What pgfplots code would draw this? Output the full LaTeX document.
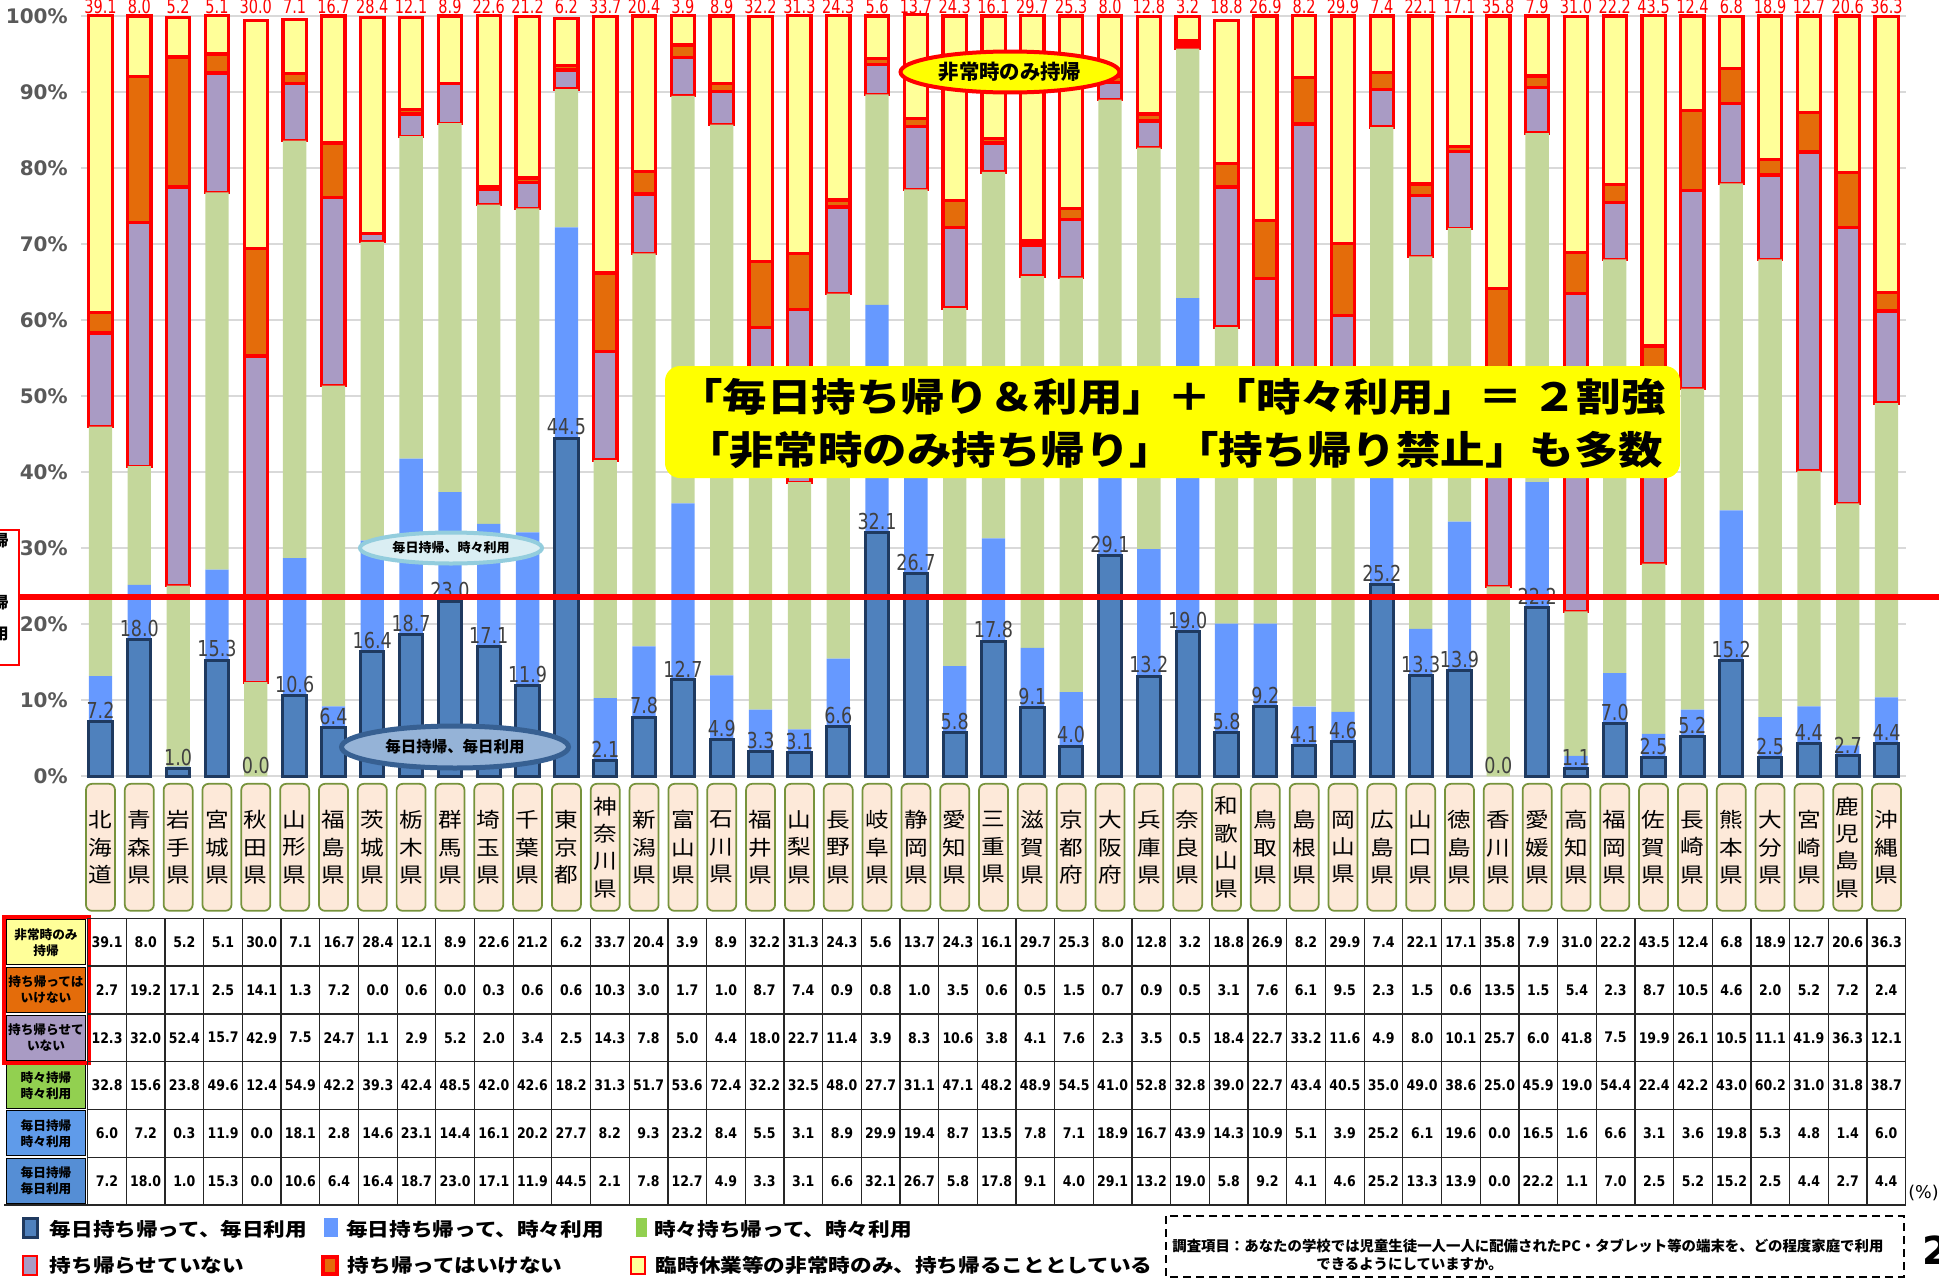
\documentclass[border=0pt]{standalone}
\usepackage{pgfplots}
\pgfplotsset{compat=1.18}
\usepackage{pgfplotstable}
\usepackage{fontspec}
\usetikzlibrary{shapes.geometric}
\setmainfont{DejaVu Sans}
\newfontfamily\jp{Noto Sans CJK JP}
\newfontfamily\jpw[FakeStretch=1.15]{Noto Sans CJK JP}
\newfontfamily\numc[FakeStretch=0.86]{DejaVu Sans}
\newfontfamily\numn[FakeStretch=0.8]{DejaVu Sans}
\newfontfamily\numt[FakeStretch=0.75]{DejaVu Sans}
\newfontfamily\num{DejaVu Sans}
\newcommand\fs[2]{\fontsize{#1}{#2}\selectfont}
\pgfkeys{/pgf/number format/assume math mode=true}

\definecolor{dkblue}{HTML}{4F81BD}
\definecolor{navy}{HTML}{1F3A60}
\definecolor{ltblue}{HTML}{6699FF}
\definecolor{grn}{HTML}{C4D79B}
\definecolor{lgrn}{HTML}{92D050}
\definecolor{purp}{HTML}{A99BC4}
\definecolor{orng}{HTML}{E46C0A}
\definecolor{ylw}{HTML}{FFFF99}
\definecolor{rd}{HTML}{FF0000}
\definecolor{gridc}{HTML}{D9D9D9}
\definecolor{tickc}{HTML}{595959}
\definecolor{lblc}{HTML}{404040}
\definecolor{catfill}{HTML}{FDE9D9}
\definecolor{catdraw}{HTML}{77933C}
\definecolor{ellbf}{HTML}{DAEEF3}
\definecolor{ellbd}{HTML}{93CDDD}
\definecolor{ellcf}{HTML}{95B3D7}
\definecolor{ellcd}{HTML}{376092}
\definecolor{rowe}{HTML}{5F9BEA}
\definecolor{rowf}{HTML}{558ED5}
\definecolor{ybox}{HTML}{FFFF00}

% A: 非常時のみ持帰, B: 持ち帰ってはいけない, C: 持ち帰らせていない,
% D: 時々持帰時々利用, E: 毎日持帰時々利用, F: 毎日持帰毎日利用
\pgfplotstableread{
A B C D E F
39.1 2.7 12.3 32.8 6.0 7.2
8.0 19.2 32.0 15.6 7.2 18.0
5.2 17.1 52.4 23.8 0.3 1.0
5.1 2.5 15.7 49.6 11.9 15.3
30.0 14.1 42.9 12.4 0.0 0.0
7.1 1.3 7.5 54.9 18.1 10.6
16.7 7.2 24.7 42.2 2.8 6.4
28.4 0.0 1.1 39.3 14.6 16.4
12.1 0.6 2.9 42.4 23.1 18.7
8.9 0.0 5.2 48.5 14.4 23.0
22.6 0.3 2.0 42.0 16.1 17.1
21.2 0.6 3.4 42.6 20.2 11.9
6.2 0.6 2.5 18.2 27.7 44.5
33.7 10.3 14.3 31.3 8.2 2.1
20.4 3.0 7.8 51.7 9.3 7.8
3.9 1.7 5.0 53.6 23.2 12.7
8.9 1.0 4.4 72.4 8.4 4.9
32.2 8.7 18.0 32.2 5.5 3.3
31.3 7.4 22.7 32.5 3.1 3.1
24.3 0.9 11.4 48.0 8.9 6.6
5.6 0.8 3.9 27.7 29.9 32.1
13.7 1.0 8.3 31.1 19.4 26.7
24.3 3.5 10.6 47.1 8.7 5.8
16.1 0.6 3.8 48.2 13.5 17.8
29.7 0.5 4.1 48.9 7.8 9.1
25.3 1.5 7.6 54.5 7.1 4.0
8.0 0.7 2.3 41.0 18.9 29.1
12.8 0.9 3.5 52.8 16.7 13.2
3.2 0.5 0.5 32.8 43.9 19.0
18.8 3.1 18.4 39.0 14.3 5.8
26.9 7.6 22.7 22.7 10.9 9.2
8.2 6.1 33.2 43.4 5.1 4.1
29.9 9.5 11.6 40.5 3.9 4.6
7.4 2.3 4.9 35.0 25.2 25.2
22.1 1.5 8.0 49.0 6.1 13.3
17.1 0.6 10.1 38.6 19.6 13.9
35.8 13.5 25.7 25.0 0.0 0.0
7.9 1.5 6.0 45.9 16.5 22.2
31.0 5.4 41.8 19.0 1.6 1.1
22.2 2.3 7.5 54.4 6.6 7.0
43.5 8.7 19.9 22.4 3.1 2.5
12.4 10.5 26.1 42.2 3.6 5.2
6.8 4.6 10.5 43.0 19.8 15.2
18.9 2.0 11.1 60.2 5.3 2.5
12.7 5.2 41.9 31.0 4.8 4.4
20.6 7.2 36.3 31.8 1.4 2.7
36.3 2.4 12.1 38.7 6.0 4.4
}\data

\begin{document}
\begin{tikzpicture}[x=0.02cm,y=-0.02cm]
\useasboundingbox (0,0) rectangle (1939,1278);

\begin{axis}[
  at={(1.622cm,-15.532cm)}, anchor=south west,
  scale only axis, width=36.506cm, height=15.212cm,
  xmin=-0.5, xmax=46.5, ymin=0, ymax=100, enlargelimits=false,
  ybar stacked, bar width=0.6,
  axis line style={draw=none}, major tick length=0pt, tick style={draw=none},
  ymajorgrids, grid style={draw=gridc, line width=0.04cm},
  ytick={0,10,...,100},
  yticklabels={0\%,10\%,20\%,30\%,40\%,50\%,60\%,70\%,80\%,90\%,100\%},
  yticklabel style={font=\num\bfseries\fs{11.4}{11.4}, text=tickc, anchor=east, inner sep=0pt, xshift=-0.26cm},
  xtick={0,...,46},
  xticklabels={{北\\海\\道},{青\\森\\県},{岩\\手\\県},{宮\\城\\県},{秋\\田\\県},{山\\形\\県},{福\\島\\県},{茨\\城\\県},{栃\\木\\県},{群\\馬\\県},{埼\\玉\\県},{千\\葉\\県},{東\\京\\都},{神\\奈\\川\\県},{新\\潟\\県},{富\\山\\県},{石\\川\\県},{福\\井\\県},{山\\梨\\県},{長\\野\\県},{岐\\阜\\県},{静\\岡\\県},{愛\\知\\県},{三\\重\\県},{滋\\賀\\県},{京\\都\\府},{大\\阪\\府},{兵\\庫\\県},{奈\\良\\県},{和\\歌\\山\\県},{鳥\\取\\県},{島\\根\\県},{岡\\山\\県},{広\\島\\県},{山\\口\\県},{徳\\島\\県},{香\\川\\県},{愛\\媛\\県},{高\\知\\県},{福\\岡\\県},{佐\\賀\\県},{長\\崎\\県},{熊\\本\\県},{大\\分\\県},{宮\\崎\\県},{鹿\\児\\島\\県},{沖\\縄\\県}},
  xticklabel style={font=\jpw\fs{11.7}{15.6}, draw=catdraw, fill=catfill, line width=0.035cm, rounded corners=0.12cm, anchor=north, inner sep=0pt, minimum width=0.58cm, minimum height=2.54cm, text width=0.58cm, align=center, yshift=-0.13cm},
  clip=false,
]
\addplot[fill=dkblue, draw=navy, line width=0.06cm] table[x expr=\coordindex, y=F]{\data};
\addplot[fill=ltblue, draw=none] table[x expr=\coordindex, y=E]{\data};
\addplot[fill=grn, draw=none] table[x expr=\coordindex, y=D]{\data};
\addplot[fill=purp, draw=rd, line width=0.065cm] table[x expr=\coordindex, y=C]{\data};
\addplot[fill=orng, draw=rd, line width=0.065cm] table[x expr=\coordindex, y=B]{\data};
\addplot[fill=ylw, draw=rd, line width=0.065cm] table[x expr=\coordindex, y=A]{\data};
\end{axis}

\begin{axis}[
  at={(1.622cm,-15.532cm)}, anchor=south west,
  scale only axis, width=36.506cm, height=15.212cm,
  xmin=-0.5, xmax=46.5, ymin=0, ymax=100, enlargelimits=false,
  hide axis, clip=false,
  point meta=explicit,
  nodes near coords={\pgfmathprintnumber[fixed,fixed zerofill,precision=1]{\pgfplotspointmeta}},
]
\addplot[only marks, mark=*, mark size=0pt, mark options={draw=none,fill=none},
  every node near coord/.append style={text=lblc, font=\numn\fs{12.5}{12.5}, inner sep=0pt, yshift=0.05cm}]
  table[x expr=\coordindex, y=F, meta=F]{\data};
\addplot[only marks, mark=*, mark size=0pt, mark options={draw=none,fill=none},
  every node near coord/.append style={text=rd, font=\numt\fs{11}{11}, inner sep=0pt, yshift=0.04cm}]
  table[x expr=\coordindex, y expr=100, meta=A]{\data};
\end{axis}

% red reference line and cut-off box at left
\draw[rd, line width=0.11cm] (19,597) -- (1939,597);
\draw[rd, line width=0.04cm] (-60,530) rectangle (19,665);
\begin{scope}[every node/.style={anchor=east, inner sep=0pt, font=\jp\bfseries\fs{9}{9}}]
\node at (9,540) {持帰};
\node at (9,562) {」};
\node at (9,602) {持帰};
\node at (9,619) {」};
\node at (9,634) {利用};
\end{scope}

% callouts
\node[ellipse, draw=rd, line width=0.08cm, fill=ybox, minimum width=4.38cm, minimum height=0.82cm, inner sep=0pt,
  font=\jp\bfseries\fs{11.6}{11.6}] at (1010,72) {非常時のみ持帰};
\node[ellipse, draw=ellbd, line width=0.08cm, fill=ellbf, minimum width=3.64cm, minimum height=0.62cm, inner sep=0pt,
  font=\jp\bfseries\fs{7.4}{7.4}] at (451,548) {毎日持帰、時々利用};
\node[ellipse, draw=ellcd, line width=0.1cm, fill=ellcf, minimum width=4.54cm, minimum height=0.84cm, inner sep=0pt,
  font=\jp\bfseries\fs{8.8}{8.8}] at (455,747) {毎日持帰、毎日利用};

\fill[ybox, rounded corners=0.3cm] (665,366) rectangle (1680,478);
\node[font=\jpw\bfseries\fs{22}{22}, inner sep=0pt] at (1172,397) {「毎日持ち帰り＆利用」＋「時々利用」＝\hspace{0.25em}２割強};
\node[font=\jpw\bfseries\fs{22}{22}, inner sep=0pt] at (1174,450) {「非常時のみ持ち帰り」「持ち帰り禁止」も多数};

% data table
\node[fill=ylw, draw=black, line width=0.02cm, minimum width=1.6cm, minimum height=0.9cm, inner sep=0pt, align=center, font=\jp\bfseries\fs{7.2}{9.1}] at (46,942.2) {非常時のみ\\持帰};
\node[fill=orng, draw=black, line width=0.02cm, minimum width=1.6cm, minimum height=0.9cm, inner sep=0pt, align=center, font=\jp\bfseries\fs{7.2}{9.1}] at (46,990.0) {持ち帰っては\\いけない};
\node[fill=purp, draw=black, line width=0.02cm, minimum width=1.6cm, minimum height=0.9cm, inner sep=0pt, align=center, font=\jp\bfseries\fs{7.2}{9.1}] at (46,1037.8) {持ち帰らせて\\いない};
\node[fill=lgrn, draw=black, line width=0.02cm, minimum width=1.6cm, minimum height=0.9cm, inner sep=0pt, align=center, font=\jp\bfseries\fs{7.2}{9.1}] at (46,1085.5) {時々持帰\\時々利用};
\node[fill=rowe, draw=black, line width=0.02cm, minimum width=1.6cm, minimum height=0.9cm, inner sep=0pt, align=center, font=\jp\bfseries\fs{7.2}{9.1}] at (46,1133.3) {毎日持帰\\時々利用};
\node[fill=rowf, draw=black, line width=0.02cm, minimum width=1.6cm, minimum height=0.9cm, inner sep=0pt, align=center, font=\jp\bfseries\fs{7.2}{9.1}] at (46,1181.1) {毎日持帰\\毎日利用};
\draw[rd, line width=0.08cm] (4,917) rectangle (89,1063);

\foreach \j in {0,...,47} \draw[line width=0.025cm, black!85] ({87.7+38.68*\j},918.3) -- ({87.7+38.68*\j},1205);
\foreach \k in {0,...,6} \draw[line width=0.025cm, black!85] (87.7,{918.3+47.78*\k}) -- (1905.6,{918.3+47.78*\k});
\draw[line width=0.05cm, black!85] (4,1205) -- (1905.6,1205);

\foreach \col [count=\k from 0] in {A,B,C,D,E,F}{
  \foreach \i in {0,...,46}{
    \edef\tmp{\noexpand\pgfplotstablegetelem{\i}{\col}\noexpand\of\noexpand\data}\tmp
    \node[font=\numc\bfseries\fs{8.3}{8.3}, inner sep=0pt] at ({107+38.68*\i},{918.3+47.78*(\k+0.5)}) {\pgfmathprintnumber[fixed,fixed zerofill,precision=1]{\pgfplotsretval}};
  }
}
\node[anchor=west, inner sep=0pt, font=\num\fs{10}{10}] at (1908,1193) {(\%)};

% legend
\filldraw[fill=dkblue, draw=navy, line width=0.06cm] (23,1218) rectangle (37,1237);
\node[anchor=west, inner sep=0pt, font=\jpw\bfseries\fs{10.7}{10.7}] at (49.5,1229) {毎日持ち帰って、毎日利用};
\fill[ltblue] (324,1218) rectangle (338,1237);
\node[anchor=west, inner sep=0pt, font=\jpw\bfseries\fs{10.7}{10.7}] at (346,1229) {毎日持ち帰って、時々利用};
\fill[lgrn] (636,1218) rectangle (647,1237);
\node[anchor=west, inner sep=0pt, font=\jpw\bfseries\fs{10.7}{10.7}] at (654,1229) {時々持ち帰って、時々利用};
\filldraw[fill=purp, draw=rd, line width=0.03cm] (23,1256) rectangle (37,1275);
\node[anchor=west, inner sep=0pt, font=\jpw\bfseries\fs{10.7}{10.7}] at (49.5,1265) {持ち帰らせていない};
\filldraw[fill=orng, draw=rd, line width=0.07cm] (323,1257) rectangle (337,1274);
\node[anchor=west, inner sep=0pt, font=\jpw\bfseries\fs{10.7}{10.7}] at (347.5,1265) {持ち帰ってはいけない};
\filldraw[fill=ylw, draw=rd, line width=0.05cm] (631,1257) rectangle (645,1274);
\node[anchor=west, inner sep=0pt, font=\jpw\bfseries\fs{10.7}{10.7}] at (655.5,1265) {臨時休業等の非常時のみ、持ち帰ることとしている};

% note
\draw[line width=0.04cm, dash pattern=on 0.16cm off 0.1cm] (1166,1216) rectangle (1904,1277);
\node[anchor=west, inner sep=0pt, font=\jp\bfseries\fs{8.2}{8.2}] at (1172,1246) {調査項目：あなたの学校では児童生徒一人一人に配備されたPC・タブレット等の端末を、どの程度家庭で利用};
\node[anchor=west, inner sep=0pt, font=\jp\bfseries\fs{8.2}{8.2}] at (1316,1264) {できるようにしていますか。};
\node[anchor=west, inner sep=0pt, font=\num\bfseries\fs{22}{22}] at (1922,1250) {2};
\end{tikzpicture}
\end{document}
